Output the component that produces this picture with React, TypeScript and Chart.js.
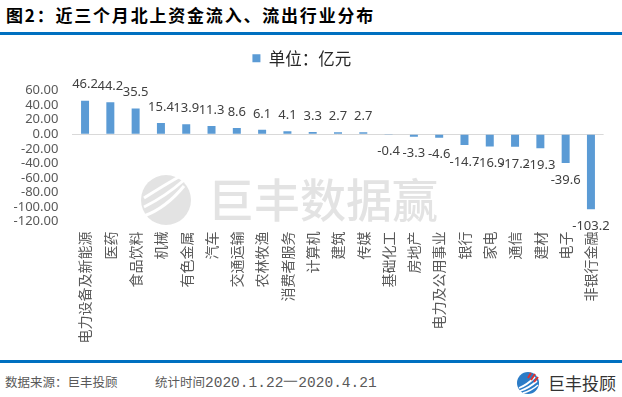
import React, { useEffect, useRef } from "react";
import { Chart, registerables } from "chart.js";

Chart.register(...registerables);

const titleText = "图2：近三个月北上资金流入、流出行业分布";
const seriesName = "单位：亿元";
const categories = [
  "电力设备及新能源", "医药", "食品饮料", "机械", "有色金属", "汽车", "交通运输",
  "农林牧渔", "消费者服务", "计算机", "建筑", "传媒", "基础化工", "房地产",
  "电力及公用事业", "银行", "家电", "通信", "建材", "电子", "非银行金融",
];
const flows = [
  46.2, 44.2, 35.5, 15.4, 13.9, 11.3, 8.6, 6.1, 4.1, 3.3, 2.7, 2.7,
  -0.4, -3.3, -4.6, -14.7, -16.9, -17.2, -19.3, -39.6, -103.2,
];
const yMin = -120;
const yMax = 60;
const yStep = 20;
const watermarkText = "巨丰数据赢";
const sourceText = "数据来源：巨丰投顾";
const periodLabel = "统计时间";
const periodText = "2020.1.22一2020.4.21";
const brandText = "巨丰投顾";

const BAR_COLOR = "#5B9BD5";
const CANVAS_TOP = 40;

const legendSpacer = {
  id: "legendSpacer",
  beforeInit(chart: any) {
    const legend = chart.legend;
    if (!legend) return;
    const origFit = legend.fit;
    legend.fit = function () {
      origFit.call(this);
      this.height = 50.7;
    };
  },
};

const watermark = {
  id: "watermark",
  beforeDatasetsDraw(chart: any) {
    const ctx = chart.ctx;
    ctx.save();
    ctx.fillStyle = "rgba(200,200,200,0.5)";
    ctx.beginPath();
    ctx.arc(166, 160, 25, 0, Math.PI * 2);
    ctx.fill();
    ctx.strokeStyle = "#ffffff";
    ctx.lineWidth = 3;
    for (let k = 0; k < 3; k++) {
      ctx.beginPath();
      ctx.moveTo(144, 176 - k * 9);
      ctx.quadraticCurveTo(166, 168 - k * 12, 184, 146 - k * 6);
      ctx.stroke();
    }
    ctx.font = '500 46px "Noto Sans CJK SC", sans-serif';
    ctx.textAlign = "left";
    ctx.textBaseline = "middle";
    ctx.fillStyle = "rgba(200,200,200,0.5)";
    ctx.fillText(watermarkText, 208, 160);
    ctx.restore();
  },
};

const valueLabels = {
  id: "valueLabels",
  afterDatasetsDraw(chart: any) {
    const ctx = chart.ctx;
    const meta = chart.getDatasetMeta(0);
    const data = chart.data.datasets[0].data as number[];
    ctx.save();
    ctx.font = '13px "Noto Sans", sans-serif';
    ctx.fillStyle = "#404040";
    ctx.textAlign = "center";
    ctx.textBaseline = "middle";
    meta.data.forEach((bar: any, i: number) => {
      const v = data[i];
      const y = v >= 0 ? bar.y - 16 : bar.y + 17;
      ctx.fillText(v.toFixed(1), bar.x, y);
    });
    ctx.restore();
  },
};

function BarChart() {
  const ref = useRef<HTMLCanvasElement | null>(null);
  useEffect(() => {
    if (!ref.current) return;
    const chart = new Chart(ref.current, {
      type: "bar",
      data: {
        labels: categories,
        datasets: [
          {
            label: seriesName,
            data: flows,
            backgroundColor: BAR_COLOR,
            borderWidth: 0,
            barPercentage: 0.395,
            categoryPercentage: 0.8,
          },
        ],
      },
      options: {
        responsive: false,
        animation: false,
        devicePixelRatio: 1,
        layout: { padding: { left: 0, right: 18.4, top: 0, bottom: 0 } },
        plugins: {
          legend: {
            display: true,
            position: "top",
            labels: {
              boxWidth: 8,
              boxHeight: 8,
              color: "#262626",
              font: { size: 16.5, family: '"Noto Sans CJK SC", sans-serif' },
              padding: 10,
            },
          },
          tooltip: { enabled: false },
        },
        scales: {
          x: {
            grid: { display: false, drawTicks: false },
            border: { display: false },
            ticks: {
              autoSkip: false,
              minRotation: 90,
              maxRotation: 90,
              padding: 10,
              color: "#595959",
              font: { size: 14, family: '"Noto Sans CJK SC", sans-serif' },
            },
            afterFit(scale: any) {
              scale.height = 133.5;
            },
          },
          y: {
            min: yMin,
            max: yMax,
            border: { display: false },
            grid: {
              drawTicks: false,
              color: (c: any) => (c.tick && c.tick.value === 0 ? "#d9d9d9" : "rgba(0,0,0,0)"),
              lineWidth: 1,
            },
            ticks: {
              stepSize: yStep,
              autoSkip: false,
              padding: 14,
              color: "#595959",
              font: { size: 13, family: '"Noto Sans", sans-serif' },
              callback: (v: any) => Number(v).toFixed(2),
            },
            afterFit(scale: any) {
              scale.width = 72.4;
            },
          },
        },
      },
      plugins: [legendSpacer, watermark, valueLabels],
    });
    return () => chart.destroy();
  }, []);
  return (
    <canvas
      ref={ref}
      width={622}
      height={315}
      style={{ position: "absolute", left: 0, top: CANVAS_TOP, width: 622, height: 315 }}
    />
  );
}

function BrandLogo() {
  return (
    <svg width="26" height="26" viewBox="0 0 26 26" style={{ position: "absolute", left: 515, top: 369 }}>
      <circle cx="13" cy="14" r="11" fill="#2b7cc7" />
      <path d="M4 19 Q12 16 20 8" stroke="#fff" strokeWidth="1.8" fill="none" />
      <path d="M5 22 Q14 19 22 12" stroke="#fff" strokeWidth="1.8" fill="none" />
      <path d="M8 24 Q16 22 23 16" stroke="#fff" strokeWidth="1.5" fill="none" />
      <path d="M16 4 L13 9" stroke="#e0312f" strokeWidth="2" />
      <path d="M20 5 L16 11" stroke="#e0312f" strokeWidth="2" />
      <path d="M23 8 L19 13" stroke="#e0312f" strokeWidth="2" />
    </svg>
  );
}

export default function App() {
  return (
    <div
      style={{
        position: "absolute",
        left: 0,
        top: 0,
        width: 622,
        height: 397,
        background: "#ffffff",
        overflow: "hidden",
        fontFamily: '"Noto Sans CJK SC", sans-serif',
      }}
    >
      <div
        style={{
          position: "absolute",
          left: 6,
          top: 3,
          lineHeight: "24px",
          fontSize: 17,
          fontWeight: 700,
          letterSpacing: "1.8px",
          color: "#000",
          whiteSpace: "nowrap",
        }}
      >
        {titleText}
      </div>
      <div style={{ position: "absolute", left: 0, top: 32, width: 622, height: 3, background: "#0070C0" }} />
      <BarChart />
      <div style={{ position: "absolute", left: 0, top: 360, width: 622, height: 3, background: "#0070C0" }} />
      <div
        style={{
          position: "absolute",
          left: 5,
          top: 372,
          lineHeight: "20px",
          fontSize: 12.5,
          color: "#595959",
          whiteSpace: "nowrap",
        }}
      >
        {sourceText}
      </div>
      <div
        style={{
          position: "absolute",
          left: 155,
          top: 372,
          lineHeight: "20px",
          fontSize: 12.5,
          color: "#595959",
          whiteSpace: "nowrap",
        }}
      >
        {periodLabel}
        <span style={{ fontFamily: '"Liberation Mono", monospace', fontSize: 14.5 }}>{periodText}</span>
      </div>
      <BrandLogo />
      <div
        style={{
          position: "absolute",
          left: 548,
          top: 371,
          lineHeight: "24px",
          fontSize: 17,
          color: "#333",
          whiteSpace: "nowrap",
        }}
      >
        {brandText}
      </div>
    </div>
  );
}
